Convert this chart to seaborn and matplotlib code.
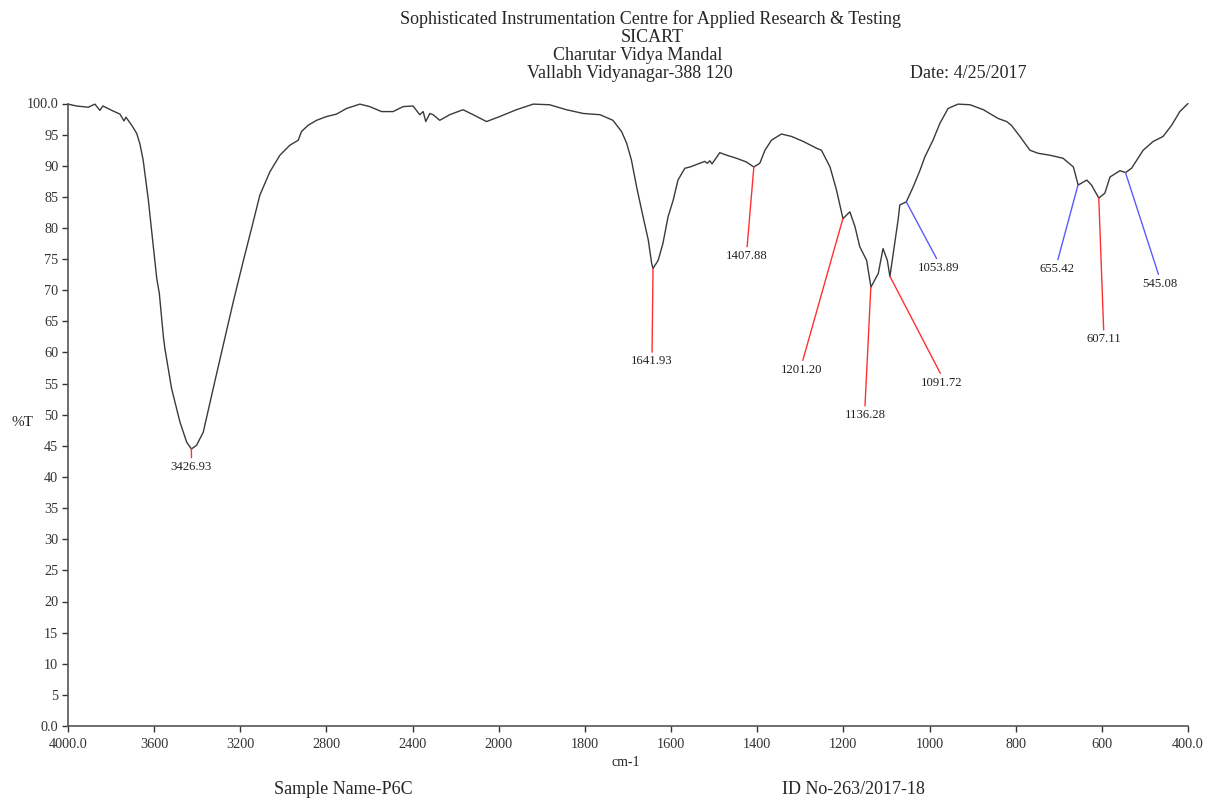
import numpy as np
import pandas as pd
import matplotlib
matplotlib.use("Agg")
import matplotlib.pyplot as plt
import seaborn as sns

# ---- spectrum data (wavenumber cm-1, %T) ----
wavenumber = [4000, 3960, 3906, 3875, 3852, 3838, 3791, 3759, 3740, 3731, 3704, 3681, 3666,
              3651, 3627, 3612, 3588, 3576, 3557, 3550, 3519, 3480, 3449, 3427, 3403, 3372,
              3326, 3279, 3233, 3187, 3148, 3109, 3063, 3016, 2970, 2931, 2916, 2885, 2846,
              2800, 2753, 2707, 2645, 2599, 2544, 2491, 2444, 2398, 2367, 2351, 2339, 2320,
              2305, 2274, 2228, 2166, 2119, 2057, 1998, 1959, 1920, 1882, 1843, 1804, 1765,
              1735, 1715, 1703, 1692, 1680, 1665, 1653, 1645, 1642, 1630, 1619, 1607, 1595,
              1584, 1568, 1556, 1533, 1522, 1516, 1510, 1505, 1487, 1471, 1448, 1425, 1408,
              1394, 1382, 1367, 1344, 1320, 1293, 1262, 1251, 1231, 1216, 1201, 1185, 1173,
              1162, 1146, 1136, 1119, 1108, 1098, 1092, 1073, 1069, 1054, 1038, 1022, 1011,
              992, 976, 957, 934, 906, 875, 841, 821, 810, 790, 767, 748, 721, 690, 666, 655,
              635, 624, 607, 593, 581, 558, 545, 531, 504, 481, 458, 438, 419, 400]
transmittance = [99.9, 99.6, 99.4, 99.9, 98.9, 99.6, 98.8, 98.3, 97.2, 97.8, 96.5, 95.2, 93.5,
                 90.9, 84.5, 79.7, 71.9, 69.5, 62.5, 60.6, 54.2, 48.8, 45.6, 44.5, 45.1, 47.2,
                 54.2, 61.2, 68.1, 74.6, 79.9, 85.3, 89.0, 91.7, 93.3, 94.1, 95.5, 96.5, 97.3,
                 97.9, 98.3, 99.2, 99.9, 99.5, 98.7, 98.7, 99.5, 99.6, 98.2, 98.7, 97.1, 98.4,
                 98.2, 97.3, 98.2, 99.0, 98.2, 97.1, 97.9, 99.0, 99.9, 99.8, 99.0, 98.4, 98.2,
                 97.3, 95.5, 93.6, 90.9, 86.6, 81.8, 78.1, 74.3, 73.5, 74.8, 77.5, 81.8, 84.5,
                 87.7, 89.6, 89.8, 90.4, 90.7, 90.4, 90.8, 90.3, 92.1, 91.7, 91.2, 90.6, 89.8,
                 90.4, 92.5, 94.1, 95.1, 94.7, 93.9, 92.8, 92.5, 89.8, 86.1, 81.5, 82.6, 80.2,
                 77.0, 74.8, 70.5, 72.7, 76.7, 74.8, 72.2, 81.3, 83.7, 84.2, 86.6, 89.3, 91.4,
                 94.1, 96.8, 99.2, 99.9, 99.8, 99.0, 97.6, 97.1, 96.5, 94.7, 92.5, 92.0, 91.7,
                 91.2, 89.8, 86.9, 87.7, 86.9, 84.8, 85.6, 88.2, 89.2, 88.9, 89.6, 92.5, 93.9,
                 94.7, 96.5, 98.7, 100.0]

# ---- peak annotations ----
peak_wn = [3426.93, 1641.93, 1407.88, 1201.20, 1136.28, 1091.72, 1053.89, 655.42, 607.11, 545.08]
peak_t = [44.5, 73.5, 89.8, 81.5, 70.5, 72.2, 84.2, 86.9, 84.8, 88.9]
peak_labels = ["3426.93", "1641.93", "1407.88", "1201.20", "1136.28", "1091.72",
               "1053.89", "655.42", "607.11", "545.08"]
peak_kind = ["r", "r", "r", "r", "r", "r", "b", "b", "r", "b"]

x_ticks = [4000, 3600, 3200, 2800, 2400, 2000, 1800, 1600, 1400, 1200, 1000, 800, 600, 400]
x_ticklabels = ["4000.0", "3600", "3200", "2800", "2400", "2000", "1800", "1600", "1400",
                "1200", "1000", "800", "600", "400.0"]
y_ticks = list(range(0, 101, 5))
y_ticklabels = ["0.0"] + [str(v) for v in range(5, 100, 5)] + ["100.0"]

# style
label_offsets = [(0, -12), (-1, -87), (-7, -83), (-41, -145), (-6, -122), (52, -100),
                 (32, -60), (-21, -78), (5, -135), (34, -105)]
kind_colors = {"r": "#ff3030", "b": "#5a5aff"}

sns.set_style("ticks")
plt.rcParams["font.family"] = ["Liberation Serif", "DejaVu Serif"]

fig = plt.figure(figsize=(12.08, 8.01), dpi=100)
ax = fig.add_axes([68 / 1208, 1 - 726 / 801, (1188 - 68) / 1208, (726 - 103.5) / 801])


def fwd(x):
    x = np.asarray(x, dtype=float)
    return np.where(x >= 2000, x, 2 * x - 2000)


def inv(y):
    y = np.asarray(y, dtype=float)
    return np.where(y >= 2000, y, (y + 2000) / 2)


ax.set_xscale("function", functions=(fwd, inv))

df = pd.DataFrame({"wn": wavenumber, "T": transmittance})
sns.lineplot(data=df, x="wn", y="T", ax=ax, sort=False, estimator=None,
             color="#3a3a3a", linewidth=1.0)
for ln in ax.lines:
    ln.set_clip_on(False)

ax.set_xlim(4000, 400)
ax.set_ylim(0, 100)
ax.set_xticks(x_ticks)
ax.set_xticklabels(x_ticklabels)
ax.minorticks_off()
ax.set_yticks(y_ticks)
ax.set_yticklabels(y_ticklabels)
ax.tick_params(axis="both", labelsize=10.3, colors="#333333", length=4, width=1)
ax.tick_params(axis="x", pad=5)
ax.tick_params(axis="y", pad=3)
ax.xaxis.set_minor_locator(matplotlib.ticker.NullLocator())
for s in ["top", "right"]:
    ax.spines[s].set_visible(False)
for s in ["left", "bottom"]:
    ax.spines[s].set_color("#555555")
    ax.spines[s].set_linewidth(1.2)
ax.set_xlabel("")
ax.set_ylabel("")

for wn, t, lab, kind, off in zip(peak_wn, peak_t, peak_labels, peak_kind, label_offsets):
    ax.annotate(lab, xy=(wn, t), xytext=off, textcoords="offset pixels",
                ha="center", va="top", fontsize=9.2, color="#222222",
                arrowprops=dict(arrowstyle="-", color=kind_colors[kind], lw=1.0,
                                shrinkA=0, shrinkB=0, relpos=(0.5, 1.0)),
                annotation_clip=False)

W, H = 1208, 801


def ftext(px, py, s, **kw):
    fig.text(px / W, 1 - py / H, s, va="center", **kw)


ftext(651, 19, "Sophisticated Instrumentation Centre for Applied Research & Testing", ha="center", fontsize=13)
ftext(652, 37, "SICART", ha="center", fontsize=13)
ftext(638, 56, "Charutar Vidya Mandal", ha="center", fontsize=13)
ftext(630, 74, "Vallabh Vidyanagar-388 120", ha="center", fontsize=13)
ftext(910, 74, "Date: 4/25/2017", ha="left", fontsize=13)
ftext(22, 423, "%T", ha="center", fontsize=11)
ftext(626, 762, "cm-1", ha="center", fontsize=10)
ftext(343, 790, "Sample Name-P6C", ha="center", fontsize=13)
ftext(853, 790, "ID No-263/2017-18", ha="center", fontsize=13)

fig.savefig("out.png", dpi=100)
